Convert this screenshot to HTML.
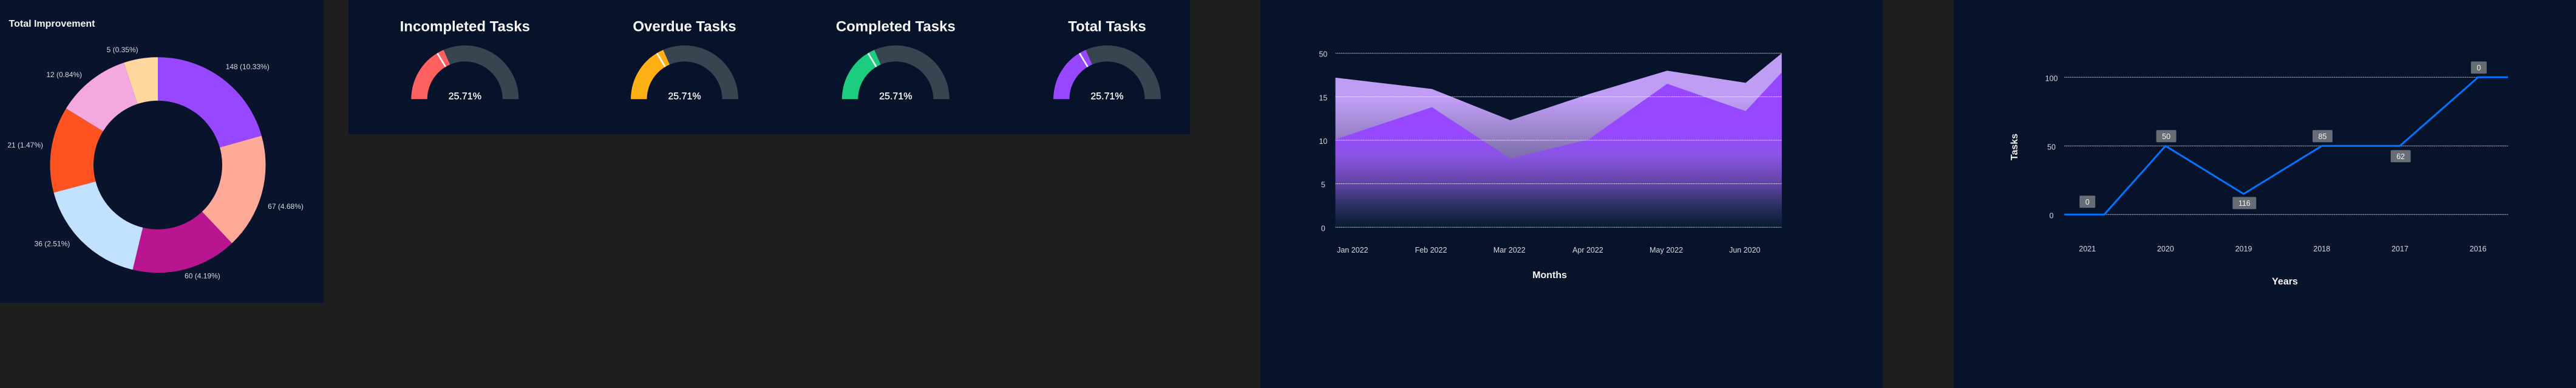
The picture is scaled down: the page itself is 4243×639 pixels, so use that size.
<!DOCTYPE html>
<html lang="en">
<head>
<meta charset="utf-8">
<title>Task dashboard charts</title>
<style>
html,body{margin:0;padding:0;background:#1e1e1e;width:4243px;height:639px;overflow:hidden}
svg{display:block;font-family:"Liberation Sans",sans-serif}
</style>
</head>
<body>
<svg id="root" xmlns="http://www.w3.org/2000/svg" width="4243" height="639" viewBox="0 0 4243 639">
  <defs>
    <linearGradient id="backFill" gradientUnits="userSpaceOnUse" x1="0" y1="166" x2="0" y2="374.3">
      <stop offset="0" stop-color="#bf9df4"/>
      <stop offset="0.45" stop-color="#7c6fa8"/>
      <stop offset="1" stop-color="#1c2a4a"/>
    </linearGradient>
    <linearGradient id="frontFill" gradientUnits="userSpaceOnUse" x1="0" y1="220" x2="0" y2="374.3">
      <stop offset="0" stop-color="#9747ff"/>
      <stop offset="0.24" stop-color="#8a55e2"/>
      <stop offset="0.54" stop-color="#6044a4"/>
      <stop offset="0.76" stop-color="#2f3166"/>
      <stop offset="1" stop-color="#041b2d"/>
    </linearGradient>
  </defs>
  <rect x="0" y="0" width="4243" height="639" fill="#1e1e1e"/>
  <rect x="0" y="0" width="533" height="499" fill="#09132b"/>
  <rect x="574" y="0" width="1386" height="221" fill="#07122b"/>
  <rect x="2076" y="0" width="1025" height="639" fill="#07122b"/>
  <rect x="3218" y="0" width="1025" height="639" fill="#07122b"/>
  <text x="14.5" y="44" font-size="16" font-weight="700" fill="#f4f5f7">Total Improvement</text>
  <g id="donut"></g>
  <g id="gauges"></g>
  <g id="area"></g>
  <g id="line"></g>
</svg>
<script>
// ---- Donut data ----
const donutShares = [20.6, 17.3, 15.8, 17.1, 12.9, 11.1, 5.1];
const donutLabels = ['148 (10.33%)', '67 (4.68%)', '60 (4.19%)', '36 (2.51%)', '21 (1.47%)', '12 (0.84%)', '5 (0.35%)'];

// ---- Gauge data ----
const gaugeTitles = ['Incompleted Tasks', 'Overdue Tasks', 'Completed Tasks', 'Total Tasks'];
const gaugeValueLabels = ['25.71%', '25.71%', '25.71%', '25.71%'];
const gaugeFillPercent = [37, 37, 37, 37];
const gaugeMarkerPercent = [32.8, 32.8, 32.8, 32.8];

// ---- Area chart data ----
const areaMonths = ['Jan 2022', 'Feb 2022', 'Mar 2022', 'Apr 2022', 'May 2022', 'Jun 2020'];
const areaTickValues = [0, 5, 10, 15, 20];
const areaTickLabels = ['0', '5', '10', '15', '50'];
const areaPointIndex = [-0.23, 1, 2, 3, 4, 5, 5.46];
const areaBackSeries = [17.2, 15.9, 12.3, 15.3, 18.0, 16.6, 20];
const areaFrontSeries = [10.1, 13.8, 7.9, 10.1, 16.5, 13.35, 17.8];

// ---- Line chart data ----
const lineYears = ['2021', '2020', '2019', '2018', '2017', '2016'];
const lineTickValues = [0, 50, 100];
const lineTickLabels = ['0', '50', '100'];
const linePointIndex = [-0.295, 0.216, 1, 2, 3, 4, 5, 5.38];
const lineSeries = [0, 0, 50, 15, 50, 50, 100, 100];
const lineValueLabels = ['0', '50', '116', '85', '62', '0'];

const NS = 'http://www.w3.org/2000/svg';
function make(parent, tag, attrs, content) {
  const el = document.createElementNS(NS, tag);
  for (const k in attrs) el.setAttribute(k, attrs[k]);
  if (content !== undefined) el.textContent = content;
  parent.appendChild(el);
  return el;
}

// ---- Donut ----
(function () {
  const g = document.getElementById('donut');
  const cx = 260, cy = 271.7, R = 177.5, r = 106, labelR = 190;
  const colors = ['#9747ff', '#ffa998', '#b91590', '#c2e0ff', '#ff5322', '#f4a8e0', '#ffd8a0'];
  const nudgeX = [-3, -2, -5, -12, -1, -7, -2];
  const nudgeY = [-6, 22, 3, -2, -1, 4, 2];
  const total = donutShares.reduce((a, b) => a + b, 0);
  const pt = (rad, a) => [cx + rad * Math.sin(a), cy - rad * Math.cos(a)];
  let acc = 0;
  donutShares.forEach((v, i) => {
    const a0 = acc / total * 2 * Math.PI;
    acc += v;
    const a1 = acc / total * 2 * Math.PI;
    const big = a1 - a0 > Math.PI ? 1 : 0;
    const p0 = pt(R, a0), p1 = pt(R, a1), p2 = pt(r, a1), p3 = pt(r, a0);
    const d = 'M' + p0 + 'A' + R + ' ' + R + ' 0 ' + big + ' 1 ' + p1 + 'L' + p2 + 'A' + r + ' ' + r + ' 0 ' + big + ' 0 ' + p3 + 'Z';
    const slice = make(g, 'path', { d: d, fill: colors[i] });
    
    
    const mid = (a0 + a1) / 2;
    const lp = pt(labelR, mid);
    const label = make(g, 'text', {
      x: lp[0] + nudgeX[i], y: lp[1] + nudgeY[i],
      'text-anchor': Math.sin(mid) >= 0 ? 'start' : 'end',
      'font-size': 12, fill: '#d6d9df'
    }, donutLabels[i]);
    
    
  });
})();

// ---- Gauges ----
(function () {
  const g = document.getElementById('gauges');
  const centers = [765.8, 1127.5, 1475.3, 1823.5];
  const colors = ['#ff6161', '#ffb015', '#1dcd7f', '#9747ff'];
  const cy = 163.3, R = 88.5, r = 62;
  const pt = (cx, rad, pct) => {
    const a = pct / 100 * Math.PI;
    return [cx - rad * Math.cos(a), cy - rad * Math.sin(a)];
  };
  const band = (cx, p0, p1) => {
    const a = pt(cx, R, p0), b = pt(cx, R, p1), c = pt(cx, r, p1), d = pt(cx, r, p0);
    return 'M' + a + 'A' + R + ' ' + R + ' 0 0 1 ' + b + 'L' + c + 'A' + r + ' ' + r + ' 0 0 0 ' + d + 'Z';
  };
  gaugeTitles.forEach((title, i) => {
    const cx = centers[i];
    const t = make(g, 'text', { x: cx, y: 51.7, 'text-anchor': 'middle', 'font-size': 24, 'font-weight': 700, fill: '#f7f8fa' }, title);
    
    
    const track = make(g, 'path', { d: band(cx, gaugeFillPercent[i], 100), fill: '#38444f' });
    
    
    const fill = make(g, 'path', { d: band(cx, 0, gaugeFillPercent[i]), fill: colors[i] });
    
    
    const m0 = pt(cx, R - 0.5, gaugeMarkerPercent[i]), m1 = pt(cx, r, gaugeMarkerPercent[i]);
    const marker = make(g, 'line', { x1: m0[0], y1: m0[1], x2: m1[0], y2: m1[1], stroke: '#fff', 'stroke-width': 2.6 });
    
    
    const val = make(g, 'text', { x: cx, y: 163.3, 'text-anchor': 'middle', 'font-size': 16, fill: '#fff', stroke: '#fff', 'stroke-width': 0.3 }, gaugeValueLabels[i]);
    
    
  });
})();

// ---- Area chart ----
(function () {
  const g = document.getElementById('area');
  const left = 2199.5, right = 2935;
  const y0 = 374.3, yTop = 87.7, yMax = 20;
  const xScale = i => 2229.3 + 129.2 * i;
  const yScale = v => y0 - (y0 - yTop) * v / yMax;
  const poly = series => {
    const pts = series.map((v, i) => xScale(areaPointIndex[i]) + ',' + yScale(v));
    pts.unshift(xScale(areaPointIndex[0]) + ',' + y0);
    pts.push(xScale(areaPointIndex[areaPointIndex.length - 1]) + ',' + y0);
    return pts.join(' ');
  };
  const back = make(g, 'polygon', { points: poly(areaBackSeries), fill: 'url(#backFill)' });
  
  
  const front = make(g, 'polygon', { points: poly(areaFrontSeries), fill: 'url(#frontFill)' });
  
  
  areaTickValues.forEach((v, i) => {
    const gl = make(g, 'line', { x1: left, x2: right, y1: yScale(v), y2: yScale(v), stroke: '#fff', 'stroke-opacity': 0.8, 'stroke-width': 1, 'stroke-dasharray': '2 1' });
    
    
    const tl = make(g, 'text', { x: 2179.4, y: yScale(v) + 6, 'text-anchor': 'middle', 'font-size': 12.5, fill: '#d6d9df' }, areaTickLabels[i]);
    
    
  });
  areaMonths.forEach((m, i) => {
    const tl = make(g, 'text', { x: xScale(i) - 1.5, y: 416, 'text-anchor': 'middle', 'font-size': 12.5, fill: '#d6d9df' }, m);
    
    
  });
  const title = make(g, 'text', { x: 2552.5, y: 458, 'text-anchor': 'middle', 'font-size': 16, 'font-weight': 700, fill: '#f7f8fa' }, 'Months');
  
  
})();

// ---- Line chart ----
(function () {
  const g = document.getElementById('line');
  const left = 3400.3, right = 4131;
  const y0 = 353.3, yTop = 127.3, yMax = 100;
  const xScale = i => 3438.2 + 128.7 * i;
  const yScale = v => y0 - (y0 - yTop) * v / yMax;
  lineTickValues.forEach((v, i) => {
    const gl = make(g, 'line', { x1: left, x2: right, y1: yScale(v), y2: yScale(v), stroke: '#fff', 'stroke-opacity': 0.8, 'stroke-width': 1, 'stroke-dasharray': '2 1' });
    
    
    const tl = make(g, 'text', { x: 3379, y: yScale(v) + 6, 'text-anchor': 'middle', 'font-size': 12.5, fill: '#d6d9df' }, lineTickLabels[i]);
    
    
  });
  const pts = lineSeries.map((v, i) => xScale(linePointIndex[i]) + ',' + yScale(v)).join(' ');
  const path = make(g, 'polyline', { points: pts, fill: 'none', stroke: '#0075ff', 'stroke-width': 3, 'stroke-linejoin': 'round' });
  
  
  const lineValueAt = i => {
    for (let k = 0; k < linePointIndex.length - 1; k++) {
      if (i >= linePointIndex[k] && i <= linePointIndex[k + 1]) {
        const t = (i - linePointIndex[k]) / (linePointIndex[k + 1] - linePointIndex[k]);
        return lineSeries[k] + t * (lineSeries[k + 1] - lineSeries[k]);
      }
    }
    return 0;
  };
  const below = [false, false, true, false, true, false];
  const gap = [11, 6, 5, 6, 7, 6];
  lineValueLabels.forEach((txt, i) => {
    const px = xScale(i) + (i === 0 ? 0 : 1.2);
    const py = yScale(lineValueAt(i));
    const top = below[i] ? py + gap[i] : py - gap[i] - 20;
    const box = make(g, 'rect', { y: top, height: 20, rx: 1.5, fill: '#666d75' });
    
    
    const t = make(g, 'text', { x: px, y: top + 14.5, 'text-anchor': 'middle', 'font-size': 12.5, fill: '#f2f3f5' }, txt);
    
    
    const w = t.getComputedTextLength() + 19;
    box.setAttribute('x', px - w / 2);
    box.setAttribute('width', w);
    const tl = make(g, 'text', { x: xScale(i), y: 414, 'text-anchor': 'middle', 'font-size': 12.5, fill: '#d6d9df' }, lineYears[i]);
    
    
  });
  const title = make(g, 'text', { x: 3763.5, y: 468.3, 'text-anchor': 'middle', 'font-size': 16, 'font-weight': 700, fill: '#f7f8fa' }, 'Years');
  
  
  const yTitle = make(g, 'text', { x: 0, y: 0, transform: 'translate(3323,242) rotate(-90)', 'text-anchor': 'middle', 'font-size': 16, 'font-weight': 700, fill: '#eceef1' }, 'Tasks');
  
  
})();
</script>
</body>
</html>
